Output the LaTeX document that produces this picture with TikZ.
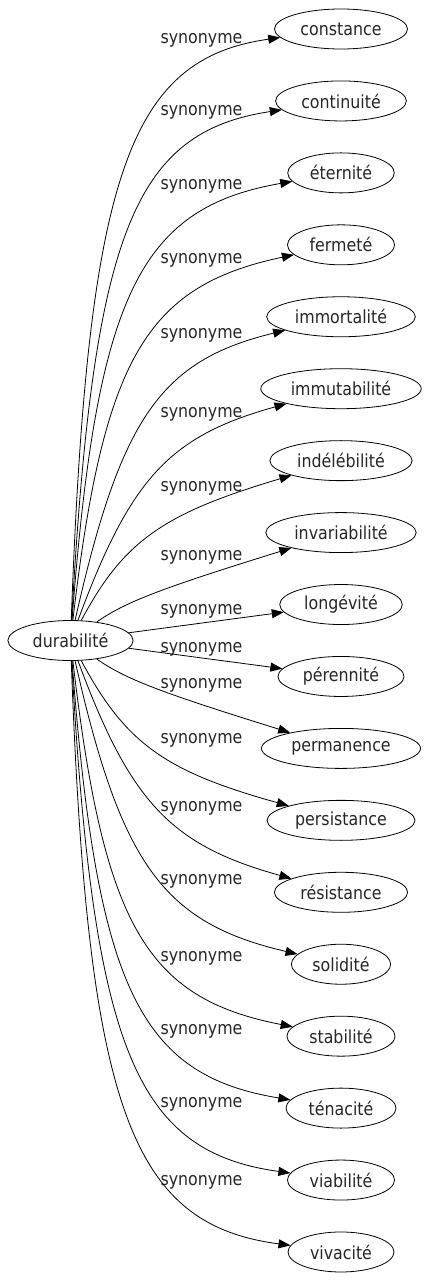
\documentclass[tikz,border=0pt]{standalone}
\usepackage{fontspec}
\setmainfont{DejaVu Sans}[FakeStretch=0.88]
\usetikzlibrary{shapes.geometric,calc,arrows.meta}
\begin{document}
\begin{tikzpicture}[x=1pt,y=1pt,
  every node/.style={font=\fontsize{18}{22}\selectfont, text=black!85},
  word/.style={draw=black, ellipse, line width=0.8pt, inner xsep=6.5pt, minimum height=40pt},
  lab/.style={anchor=base},
  edge/.style={draw, line width=0.8pt, -{Triangle[length=12pt,width=9pt]}}]
\useasboundingbox (0,0) rectangle (428,-1283);
\node[word] (src) at (70.5,-640.5) {durabilité};
\foreach \i/\w in {0/constance,1/continuité,2/éternité,3/fermeté,4/immortalité,5/immutabilité,6/indélébilité,7/invariabilité,8/longévité,9/pérennité,10/permanence,11/persistance,12/résistance,13/solidité,14/stabilité,15/ténacité,16/viabilité,17/vivacité}
  \node[word] (t\i) at (341,{-29-71.94*\i}) {\w};
\foreach \i/\y in {0/38,1/110,2/184.5,3/258,4/333,5/412.5,6/486,7/555,8/609.5,9/647,10/683.5,11/738.5,12/806,13/879.5,14/956,15/1029,16/1102,17/1180.5}
  \node[lab] (l\i) at (201.5,{-\y-5}) {synonyme};
\foreach \i/\sx/\sy/\a/\tx/\ty/\b in {0/72/619/88/277/38/8,1/73/619/87/273/110/9,2/74/619/86/287/182/10,3/76/619/84/287/256/12,4/78/619/78/275/332/14,5/80/617/70/274/406/16,6/85/617/63/280/480/16,7/105/620/42/280/552/17,10/105/661/-42/280/729/-17,11/85/664/-63/282/805/-16,12/80/664/-70/282/877/-16,13/78/662/-78/288/954/-14,14/76/662/-84/286/1028/-12,15/74/662/-86/286/1101/-10,16/73/662/-87/283/1175/-9,17/72/662/-88/284/1246/-8}{
  \coordinate (S) at (\sx,-\sy);
  \coordinate (T) at (\tx,-\ty);
  \coordinate (C) at (intersection cs: first line={(S)--($(S)+(\a:100)$)}, second line={(T)--($(T)+(\b:100)$)});
  \draw[edge] (src) .. controls ($(S)!0.8!(C)$) and ($(T)!0.8!(C)$) .. (t\i);
}
\draw[edge] (src) -- (t8);
\draw[edge] (src) -- (t9);
\end{tikzpicture}
\end{document}
